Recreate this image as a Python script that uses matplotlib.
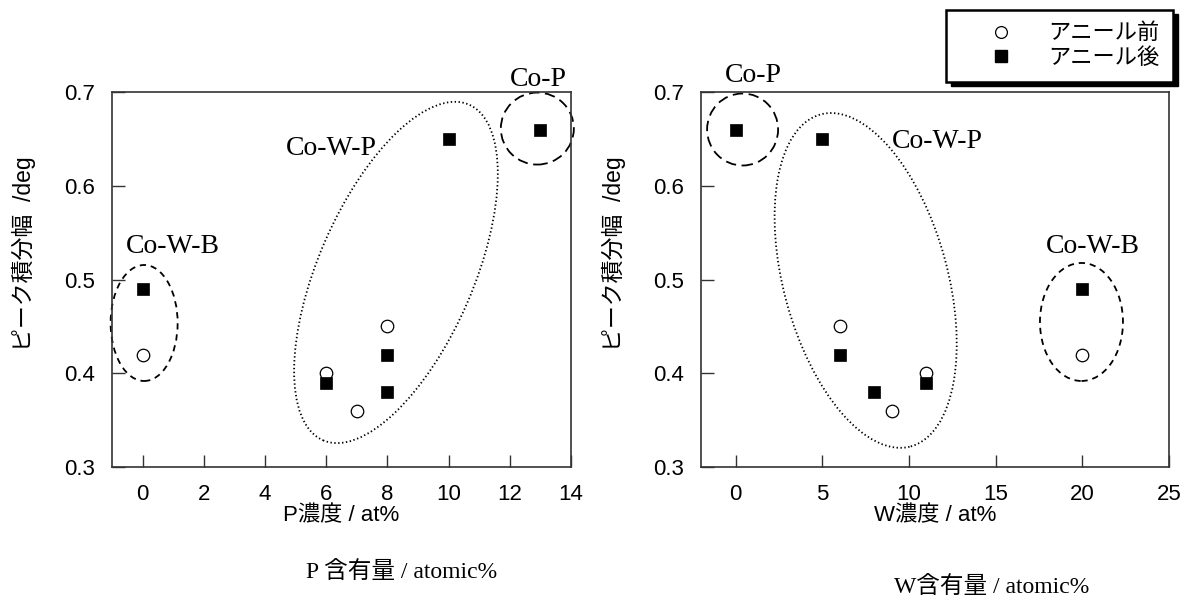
import matplotlib
matplotlib.use("Agg")
import matplotlib.pyplot as plt
import matplotlib.transforms as mtransforms
from matplotlib.patches import Ellipse, Rectangle
from matplotlib.lines import Line2D

plt.rcParams["lines.scale_dashes"] = False

# ---- data -------------------------------------------------------------
# peak integral width vs. P concentration
p_before_x = [0, 6, 7, 8]
p_before_y = [0.42, 0.40, 0.36, 0.45]
p_after_x = [0, 6, 8, 8, 10, 13]
p_after_y = [0.49, 0.39, 0.42, 0.38, 0.65, 0.66]

# peak integral width vs. W concentration
w_before_x = [6, 9, 11, 20]
w_before_y = [0.45, 0.36, 0.40, 0.42]
w_after_x = [0, 5, 6, 8, 11, 20]
w_after_y = [0.66, 0.65, 0.42, 0.38, 0.39, 0.49]

p_ticks = [0, 2, 4, 6, 8, 10, 12, 14]
w_ticks = [0, 5, 10, 15, 20, 25]
y_ticks = [0.3, 0.4, 0.5, 0.6, 0.7]

legend_labels = ["アニール前", "アニール後"]
ylabel_text = "ピーク積分幅  /deg"
p_xlabel = "P濃度 / at%"
w_xlabel = "W濃度 / at%"
p_sublabel = "P 含有量 / atomic%"
w_sublabel = "W含有量 / atomic%"

# ---- fonts ------------------------------------------------------------
SANS = ["Liberation Sans", "Noto Sans CJK JP", "DejaVu Sans"]
SERIF = ["Liberation Serif", "Noto Sans CJK JP", "DejaVu Serif"]
plt.rcParams["font.family"] = SANS

W, H, DPI = 1190, 602, 100
fig = plt.figure(figsize=(W / DPI, H / DPI), dpi=DPI)
fig.patch.set_facecolor("white")


def px_box(x0, x1, ytop, ybot):
    return [x0 / W, 1 - ybot / H, (x1 - x0) / W, (ybot - ytop) / H]


ax1 = fig.add_axes(px_box(112, 571, 92, 467))
ax2 = fig.add_axes(px_box(701, 1169, 92, 467))

SPINE = "#333333"


def style_axes(ax, xlim, xticks):
    ax.set_xlim(*xlim)
    ax.set_ylim(0.3, 0.7)
    ax.set_xticks(xticks)
    ax.set_yticks(y_ticks)
    ax.set_xticklabels([str(t) for t in xticks])
    ax.set_yticklabels([f"{t:.1f}" for t in y_ticks])
    ax.tick_params(axis="both", direction="in", length=9, width=1.0,
                   color=SPINE, labelsize=16, pad=12,
                   top=False, right=False)
    for s in ax.spines.values():
        s.set_color(SPINE)
        s.set_linewidth(1.2)


style_axes(ax1, (-1, 14), p_ticks)
style_axes(ax2, (-2, 25), w_ticks)


def scatter(ax, bx, by, axx, ay):
    ax.plot(bx, by, linestyle="none", marker="o", markersize=9,
            markerfacecolor="white", markeredgecolor="black",
            markeredgewidth=0.9, zorder=3, clip_on=False)
    ax.plot(axx, ay, linestyle="none", marker="s", markersize=9,
            markerfacecolor="black", markeredgecolor="black",
            markeredgewidth=0.5, zorder=4, clip_on=False)


scatter(ax1, p_before_x, p_before_y, p_after_x, p_after_y)
scatter(ax2, w_before_x, w_before_y, w_after_x, w_after_y)


# ---- group outlines (sized in pixels, centred in data units) -----------
def outline(ax, cx, cy, w_px, h_px, angle, ls):
    trans = fig.dpi_scale_trans + mtransforms.ScaledTranslation(cx, cy, ax.transData)
    e = Ellipse((0, 0), w_px / DPI, h_px / DPI, angle=angle, transform=trans,
                fill=False, edgecolor="black", linewidth=1.3, linestyle=ls,
                clip_on=False, zorder=2)
    ax.add_artist(e)


DASH_LONG = (0, (7.5, 4.0))
DASH_SHORT = (0, (4.5, 3.5))
DOTS = (0, (1.0, 1.8))

outline(ax1, 0.05, 0.4536, 67, 116, 0, DASH_SHORT)
outline(ax1, 8.28, 0.5075, 155, 366, -23.5, DOTS)
outline(ax1, 12.9, 0.661, 73, 72, 0, DASH_LONG)

outline(ax2, 0.4, 0.660, 71, 72, 0, DASH_LONG)
outline(ax2, 7.5, 0.499, 164, 344, 15.2, DOTS)
outline(ax2, 19.95, 0.4547, 83, 118, 0, DASH_SHORT)

# ---- group names ------------------------------------------------------
GROUP_FS = 20
for ax, txt, x, y in [
    (ax1, "Co-W-B", 0.98, 0.535),
    (ax1, "Co-W-P", 6.18, 0.640),
    (ax1, "Co-P", 12.93, 0.713),
    (ax2, "Co-P", 1.04, 0.718),
    (ax2, "Co-W-P", 11.66, 0.647),
    (ax2, "Co-W-B", 20.6, 0.535),
]:
    ax.text(x, y, txt, family=SERIF, fontsize=GROUP_FS, ha="center",
            va="center", clip_on=False, zorder=5)


# ---- axis titles ------------------------------------------------------
def fig_text(xp, yp, s, **kw):
    fig.text(xp / W, 1 - yp / H, s, ha="center", va="center", **kw)


fig_text(24, 254, ylabel_text, rotation=90, fontsize=16.5, family=SANS)
fig_text(614, 254, ylabel_text, rotation=90, fontsize=16.5, family=SANS)
fig_text(341, 516, p_xlabel, fontsize=16, family=SANS)
fig_text(935, 516, w_xlabel, fontsize=16, family=SANS)
fig_text(402, 572, p_sublabel, fontsize=17, family=SERIF)
fig_text(992, 587, w_sublabel, fontsize=17, family=SERIF)

# ---- legend -----------------------------------------------------------
handles = [
    Line2D([], [], linestyle="none", marker="o", markersize=8.5,
           markerfacecolor="white", markeredgecolor="black", markeredgewidth=0.9),
    Line2D([], [], linestyle="none", marker="s", markersize=8.5,
           markerfacecolor="black", markeredgecolor="black"),
]
leg = fig.legend(handles, legend_labels, loc="upper right",
                 bbox_to_anchor=(1173 / W, 1 - 10 / H),
                 bbox_transform=fig.transFigure,
                 prop={"family": SANS, "size": 16},
                 frameon=True, fancybox=False, shadow=False,
                 borderpad=0.6, labelspacing=0.15,
                 handlelength=3.7, handletextpad=0.3, borderaxespad=0)
leg.set_zorder(10)
frame = leg.get_frame()
frame.set_edgecolor("black")
frame.set_linewidth(1.8)
frame.set_facecolor("white")
frame.set_alpha(1.0)

# solid drop shadow behind the legend box
fig.canvas.draw()
bb = leg.get_window_extent()
fig.add_artist(Rectangle((bb.x0 + 5, bb.y0 - 4), bb.width, bb.height,
                         transform=mtransforms.IdentityTransform(),
                         facecolor="black", edgecolor="black", zorder=9))

fig.savefig("out.png", dpi=DPI, facecolor="white")
